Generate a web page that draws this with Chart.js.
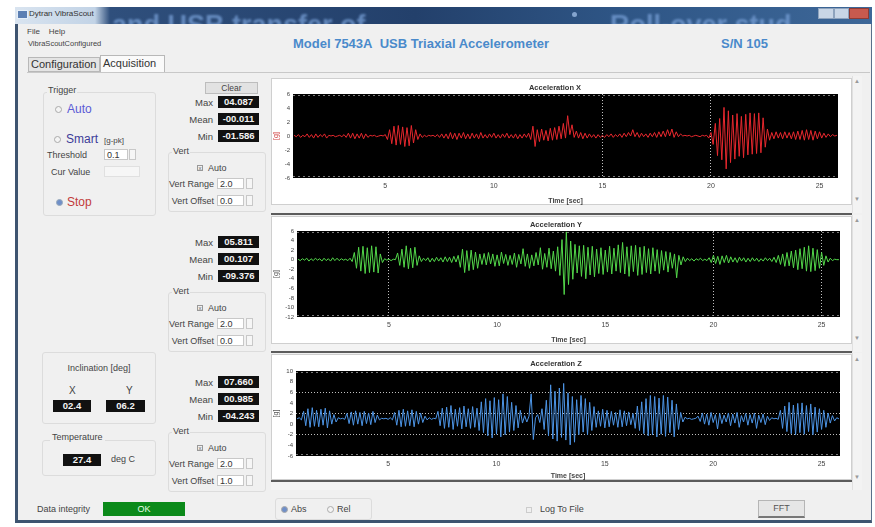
<!DOCTYPE html>
<html>
<head>
<meta charset="utf-8">
<title>VibraScout</title>
<script src="https://cdn.jsdelivr.net/npm/chart.js@4.4.1/dist/chart.umd.min.js"></script>
<style>
  html, body { margin: 0; padding: 0; background: #ffffff; }
  body { width: 875px; height: 527px; position: relative; overflow: hidden;
         font-family: "Liberation Sans", "DejaVu Sans", sans-serif; color: #333; }
  .abs { position: absolute; white-space: nowrap; }
  #win { left: 15px; top: 7px; width: 857px; height: 516px; background: #f0f0f0;
         border: 1px solid #5a6f8a; border-left: 3px solid #3e5470; border-bottom: 3px solid #3e5470; box-sizing: border-box; }
  #titlebar { left: 15px; top: 7px; width: 857px; height: 17px; overflow: hidden;
              background: linear-gradient(90deg, #d9e4f0 0px, #c2d3e6 80px, #2f4f7c 95px, #23406b 400px, #2e5585 600px, #3d6798 857px); }
  .ghost { position: absolute; color: rgba(120,160,215,0.75); font-weight: bold; font-size: 27px; filter: blur(1px); white-space: nowrap; }
  .lbl { font-size: 9px; color: #444; }
  .blue { color: #4a8acb; font-weight: bold; font-size: 13px; }
  .box { background: #111; color: #f4f4f4; font-size: 9.5px; font-weight: bold; text-align: center;
         line-height: 12px; height: 12px; }
  .grp { border: 1px solid #dcdcdc; border-radius: 3px; box-sizing: border-box; }
  .inp { background: #fff; border: 1px solid #c8c8c8; font-size: 9px; line-height: 10px; height: 11px;
         box-sizing: border-box; padding-left: 2px; }
  .spin { border: 1px solid #c8c8c8; background: #f6f6f6; width: 7px; height: 11px; box-sizing: border-box; }
  .radio { width: 7px; height: 7px; border-radius: 50%; border: 1px solid #aaa; background: #f4f4f4; box-sizing: border-box; }
  .panel { background: #fff; border: 1px solid #cfcfcf; box-sizing: border-box; }
  .vsb { background: #f3f3f3; border-left: 1px solid #e0e0e0; width: 10px; box-sizing: border-box; }
  .hsb { background: #f3f3f3; height: 8px; }
  .sep { background: #5c5c5c; height: 2px; }
  .arrow { font-size: 6px; color: #999; }
  canvas { position: absolute; }
</style>
</head>
<body>
<div id="win" class="abs"></div>
<div id="titlebar" class="abs">
  <div class="ghost" style="left:97px;top:3px;">and USB transfer of</div>
  <div class="ghost" style="left:595px;top:3px;">Roll-over stud</div>
</div>
<div class="abs" style="left:17px;top:10px;width:9px;height:7px;background:#5c7fb3;border:1px solid #e5eef8;"></div>
<div class="abs lbl" style="left:29px;top:9px;font-size:8px;color:#333;">Dytran VibraScout</div>
<div class="abs" style="left:572px;top:12px;width:5px;height:5px;border-radius:50%;background:rgba(170,200,240,0.7);"></div>
<div class="abs" style="left:818px;top:8px;width:16px;height:11px;background:#c9d6e6;border:1px solid #8ea3bd;box-sizing:border-box;"></div>
<div class="abs" style="left:834px;top:8px;width:15px;height:11px;background:#c9d6e6;border:1px solid #8ea3bd;box-sizing:border-box;"></div>
<div class="abs" style="left:849px;top:8px;width:20px;height:11px;background:#c85a4e;border:1px solid #8e3b35;box-sizing:border-box;"></div>

<!-- menu and tabs -->
<div class="abs lbl" style="left:27px;top:27px;font-size:8px;">File&nbsp;&nbsp;&nbsp; Help</div>
<div class="abs lbl" style="left:28px;top:39px;font-size:7.5px;">VibraScoutConfigured</div>
<div class="abs" style="left:28px;top:57px;width:72px;height:15px;background:#e4e4e4;border:1px solid #b8b8b8;box-sizing:border-box;"></div>
<div class="abs lbl" style="left:31px;top:58px;font-size:11px;color:#333;">Configuration</div>
<div class="abs" style="left:100px;top:55px;width:65px;height:18px;background:#fafafa;border:1px solid #b8b8b8;border-bottom:none;box-sizing:border-box;"></div>
<div class="abs lbl" style="left:103px;top:57px;font-size:11px;color:#333;">Acquisition</div>
<div class="abs" style="left:27px;top:72px;width:843px;height:1px;background:#c8c8c8;"></div>

<div class="abs blue" style="left:293px;top:36px;">Model 7543A&nbsp; USB Triaxial Accelerometer</div>
<div class="abs blue" style="left:721px;top:36px;">S/N 105</div>

<!-- trigger group -->
<div class="abs grp" style="left:43px;top:92px;width:113px;height:124px;"></div>
<div class="abs lbl" style="left:47px;top:85px;background:#f0f0f0;padding:0 1px;">Trigger</div>
<div class="abs radio" style="left:55px;top:106px;"></div>
<div class="abs" style="left:67px;top:102px;font-size:12px;color:#5b5bd6;">Auto</div>
<div class="abs radio" style="left:54px;top:136px;"></div>
<div class="abs" style="left:66px;top:132px;font-size:12px;color:#3c3c99;">Smart</div>
<div class="abs lbl" style="left:104px;top:136px;font-size:8px;">[g-pk]</div>
<div class="abs lbl" style="left:47px;top:150px;">Threshold</div>
<div class="abs inp" style="left:104px;top:149px;width:24px;">0.1</div>
<div class="abs spin" style="left:129px;top:149px;"></div>
<div class="abs lbl" style="left:51px;top:167px;">Cur Value</div>
<div class="abs inp" style="left:104px;top:166px;width:36px;border-color:#e0e0e0;background:#f6f6f6;"></div>
<div class="abs radio" style="left:56px;top:199px;background:#6f8fc8;border-color:#9ab;"></div>
<div class="abs" style="left:67px;top:195px;font-size:12px;color:#c23b3b;">Stop</div>

<div class="abs" style="left:205px;top:82px;width:53px;height:12px;background:#e2e2e2;border:1px solid #bdbdbd;box-sizing:border-box;font-size:8.5px;text-align:center;line-height:10px;color:#444;">Clear</div>

<!-- inclination / temperature -->
<div class="abs grp" style="left:42px;top:352px;width:114px;height:72px;"></div>
<div class="abs lbl" style="left:42px;top:363px;width:114px;text-align:center;">Inclination [deg]</div>
<div class="abs lbl" style="left:69px;top:385px;font-size:10px;">X</div>
<div class="abs lbl" style="left:126px;top:385px;font-size:10px;">Y</div>
<div class="abs box" style="left:53px;top:400px;width:38px;">02.4</div>
<div class="abs box" style="left:106px;top:400px;width:39px;">06.2</div>
<div class="abs grp" style="left:42px;top:440px;width:114px;height:36px;"></div>
<div class="abs lbl" style="left:50px;top:432px;background:#f0f0f0;padding:0 2px;">Temperature</div>
<div class="abs box" style="left:63px;top:454px;width:38px;">27.4</div>
<div class="abs lbl" style="left:111px;top:454px;">deg C</div>

<div class="abs lbl" style="left:37px;top:504px;">Data integrity</div>
<div class="abs" style="left:103px;top:502px;width:82px;height:14px;background:#0b8a1a;color:#e8ffe8;font-size:9px;text-align:center;line-height:14px;">OK</div>

<!-- bottom controls -->
<div class="abs grp" style="left:275px;top:498px;width:97px;height:22px;"></div>
<div class="abs radio" style="left:281px;top:506px;background:#6f8fc8;"></div>
<div class="abs lbl" style="left:291px;top:504px;">Abs</div>
<div class="abs radio" style="left:327px;top:506px;"></div>
<div class="abs lbl" style="left:337px;top:504px;">Rel</div>
<div class="abs" style="left:526px;top:507px;width:6px;height:6px;border:1px solid #ccc;box-sizing:border-box;"></div>
<div class="abs lbl" style="left:540px;top:504px;">Log To File</div>
<div class="abs" style="left:758px;top:500px;width:47px;height:18px;background:#e6e6e6;border:1px solid #b5b5b5;border-bottom:2px solid #777;box-sizing:border-box;font-size:9px;text-align:center;line-height:15px;color:#555;">FFT</div>

<!-- chart panels with scrollbars -->
<div class="abs panel" style="left:271px;top:78px;width:581px;height:127px;"></div>
<div class="abs panel" style="left:271px;top:216px;width:581px;height:128px;"></div>
<div class="abs panel" style="left:271px;top:354px;width:581px;height:126px;"></div>
<div class="abs hsb" style="left:271px;top:205px;width:581px;"></div>
<div class="abs hsb" style="left:271px;top:344px;width:581px;"></div>
<div class="abs hsb" style="left:271px;top:482px;width:581px;"></div>
<div class="abs sep" style="left:271px;top:213px;width:581px;"></div>
<div class="abs sep" style="left:271px;top:351px;width:581px;"></div>
<div class="abs sep" style="left:271px;top:480px;width:581px;"></div>
<div class="abs vsb" style="left:852px;top:76px;height:137px;"></div>
<div class="abs vsb" style="left:852px;top:215px;height:137px;"></div>
<div class="abs vsb" style="left:852px;top:353px;height:137px;"></div>
<div class="abs arrow" style="left:854px;top:78px;">&#9650;</div>
<div class="abs arrow" style="left:854px;top:196px;">&#9660;</div>
<div class="abs arrow" style="left:854px;top:217px;">&#9650;</div>
<div class="abs arrow" style="left:854px;top:335px;">&#9660;</div>
<div class="abs arrow" style="left:854px;top:356px;">&#9650;</div>
<div class="abs arrow" style="left:854px;top:474px;">&#9660;</div>

<canvas id="cx" width="578" height="126" style="left:272px;top:79px;"></canvas>
<canvas id="cy" width="578" height="127" style="left:272px;top:217px;"></canvas>
<canvas id="cz" width="578" height="125" style="left:272px;top:355px;"></canvas>

<script>
// ---- acquisition record: 10 samples per second starting at 0.8 s ----
const sampleStart = 0.8;
const samplePeriod = 0.1;

const timeTicks = [5, 10, 15, 20, 25];
const accelXTicks = [-6, -4, -2, 0, 2, 4, 6];
const accelYTicks = [-12, -10, -8, -6, -4, -2, 0, 2, 4, 6];
const accelZTicks = [-6, -4, -2, 0, 2, 4, 6, 8, 10];

const accelX = [
  0.1,-0.1,0.2,-0.2,0.1,-0.1,0.3,-0.2,0.2,-0.3,
  0.3,-0.2,0.2,-0.1,0.3,-0.3,0.1,0.0,0.1,-0.1,
  0.0,0.1,-0.1,0.2,-0.2,0.4,-0.3,0.4,-0.4,0.3,
  -0.3,0.4,-0.4,0.3,-0.2,0.1,0.0,0.1,-0.1,0.0,
  0.1,0.0,0.2,-0.5,0.9,-1.1,1.4,-1.3,1.5,-1.2,
  1.3,-1.5,1.2,-1.4,1.5,-1.0,0.9,-0.5,0.3,-0.2,
  0.1,-0.1,0.1,0.0,0.1,-0.1,0.2,-0.2,0.3,-0.3,
  0.3,-0.4,0.5,-0.4,0.4,-0.5,0.4,-0.3,0.5,-0.4,
  0.3,-0.4,0.4,-0.3,0.3,-0.4,0.5,-0.3,0.2,-0.3,
  0.3,-0.2,0.4,-0.3,0.2,-0.3,0.3,-0.2,0.4,-0.3,
  0.2,-0.3,0.3,-0.4,0.2,-0.3,0.3,-0.2,0.4,-0.5,
  1.4,-1.5,0.9,-0.8,1.0,-0.6,0.8,-0.7,1.1,-0.6,
  1.2,-0.5,1.4,-0.4,1.8,-0.3,2.9,0.2,1.6,-0.2,
  0.7,-0.3,0.5,-0.4,0.4,-0.3,0.3,-0.2,0.2,-0.3,
  0.2,-0.2,0.1,-0.2,0.2,-0.1,0.3,-0.2,0.2,-0.1,
  0.3,-0.2,0.4,-0.1,0.5,0.0,0.9,-0.1,0.5,-0.2,
  0.4,-0.1,0.3,-0.2,0.4,-0.1,0.5,-0.2,0.6,-0.1,
  0.7,-0.1,0.9,0.0,1.0,-0.2,0.6,-0.1,0.3,0.0,
  0.1,0.0,0.1,-0.1,0.0,0.1,0.0,-0.1,0.1,0.0,
  0.1,-0.3,0.5,-1.2,1.8,-2.8,2.5,-3.4,4.087,-4.7,
  3.6,-3.8,3.0,-3.3,3.2,-2.9,2.8,-3.1,3.1,-2.7,
  3.3,-2.6,3.2,-2.5,3.3,-2.4,2.6,-1.6,1.0,-0.6,
  0.5,-0.4,0.6,-0.3,0.5,-0.4,0.6,-0.3,0.5,-0.4,
  0.6,-0.5,0.7,-0.5,0.8,-0.6,0.9,-0.5,0.8,-0.6,
  0.7,-0.4,0.6,-0.3,0.4,-0.2,0.3,-0.1,0.2,0.0,
  0.1
];

const accelY = [
  0.1,-0.2,0.2,-0.1,0.3,-0.3,0.2,-0.2,0.3,-0.1,
  0.2,-0.3,0.3,-0.2,0.2,-0.3,0.4,-0.2,0.3,-0.2,
  0.2,-0.1,0.1,-0.2,0.3,-0.4,1.5,-1.8,2.6,-2.4,
  2.8,-2.9,2.5,-2.7,2.9,-2.6,2.7,-2.8,1.2,-0.6,
  0.2,-0.1,0.1,-0.2,0.1,0.0,1.4,-1.2,2.2,-1.6,
  2.9,-1.9,2.4,-1.7,2.6,-1.2,0.8,-0.4,0.3,-0.2,
  0.4,-0.5,0.3,-0.4,0.5,-0.3,0.4,-0.5,0.6,-0.4,
  0.5,-0.6,0.7,-0.5,0.9,-1.6,2.2,-2.7,1.9,-2.3,
  2.0,-2.1,1.6,-1.8,1.2,-1.0,1.3,-1.1,1.5,-0.9,
  1.2,-1.4,1.0,-1.3,1.6,-0.8,1.1,-1.2,0.9,-1.0,
  1.4,-1.6,1.1,-0.9,2.3,-1.4,1.2,-1.8,1.0,-1.3,
  1.5,-1.1,2.5,-2.0,1.3,-1.6,2.4,-1.9,1.8,-2.4,
  2.7,-3.3,4.2,-7.3,5.811,-5.2,3.9,-4.1,3.2,-2.8,
  2.9,-3.5,3.0,-4.0,2.6,-3.2,2.8,-3.6,2.2,-2.9,
  2.5,-3.1,2.0,-2.6,2.8,-3.0,2.4,-2.4,3.1,-2.7,
  3.6,-3.0,2.7,-3.5,2.9,-2.5,3.0,-3.3,2.6,-3.1,
  2.8,-2.7,2.3,-3.0,2.5,-2.4,2.1,-2.9,1.9,-2.2,
  1.7,-2.6,1.5,-1.8,1.2,-3.8,0.9,-1.1,0.6,-0.4,
  0.3,-0.2,0.2,-0.3,0.2,-0.1,0.3,-0.2,0.1,-0.2,
  0.4,-0.6,0.9,-0.8,0.7,-1.0,0.8,-0.6,0.9,-0.7,
  0.6,-0.5,0.4,-0.6,0.5,-0.3,0.4,-0.5,0.3,-0.4,
  0.4,-0.3,0.3,-0.4,0.2,-0.3,0.4,-0.2,0.3,-0.4,
  0.5,-0.6,0.9,-1.0,1.2,-1.4,1.5,-1.3,1.8,-1.7,
  2.0,-2.1,2.3,-1.9,2.6,-2.4,2.9,-2.5,2.4,-2.3,
  2.1,-1.8,1.5,-1.2,0.8,-0.5,0.3,-0.2,0.1,0.0,
  0.0
];

const accelZ = [
  1.0,1.2,0.8,2.4,-0.3,2.9,-0.6,3.1,-0.4,2.6,
  -0.5,2.8,-0.2,3.0,-0.7,2.5,0.0,1.8,0.4,1.2,
  1.0,1.1,0.9,2.0,0.1,2.3,-0.2,2.5,0.0,2.2,
  -0.3,2.4,0.1,2.1,-0.1,2.4,0.3,1.7,0.8,1.1,
  1.0,1.1,0.9,1.2,0.8,2.2,-0.2,2.6,-0.5,2.8,
  -0.4,2.5,-0.3,2.7,-0.5,2.4,0.0,2.1,0.3,1.5,
  0.8,1.2,0.9,1.1,1.0,2.4,-0.3,3.0,-0.8,3.2,
  -0.6,3.5,-1.0,2.8,-0.4,3.1,-0.9,3.4,-0.5,2.9,
  -0.8,3.3,-0.6,3.0,-1.2,4.2,-1.6,4.8,-2.2,4.4,
  -2.6,5.0,-1.9,4.6,-2.4,5.7,-2.0,5.2,-1.5,4.1,
  -1.2,3.5,-0.7,2.6,0.2,1.6,0.4,1.5,5.7,-2.9,
  1.2,1.8,0.3,2.9,-1.0,4.5,-2.2,7.4,-2.8,6.2,
  -3.2,6.8,-2.5,7.66,-3.0,5.9,-3.9,5.2,-3.4,4.6,
  -2.0,5.4,-1.5,4.8,-2.0,4.1,-1.2,3.3,-0.6,2.5,
  -0.4,2.8,-0.7,2.6,-0.5,2.4,-0.2,2.2,-0.6,2.7,
  -0.5,2.5,-0.3,2.3,-0.1,2.0,-0.8,3.4,-1.2,4.2,
  -1.8,4.8,-2.2,5.4,-2.0,5.2,-2.4,4.9,-1.9,5.4,
  -2.3,5.1,-1.6,4.5,-2.4,3.8,-1.0,2.2,0.4,1.3,
  1.0,1.1,0.9,1.0,1.1,1.5,0.5,2.1,0.0,1.9,
  -0.2,2.2,0.3,1.8,-0.9,2.0,0.1,1.7,0.4,2.1,
  -0.3,1.9,0.2,2.2,-0.6,1.6,0.4,2.0,-0.2,1.8,
  0.2,2.1,-0.8,1.7,0.3,1.9,-0.1,1.5,0.7,1.2,
  1.0,1.1,0.9,2.6,-0.8,3.4,-1.4,4.1,-1.8,3.6,
  -2.0,3.9,-1.6,4.0,-1.9,3.5,-1.4,3.8,-2.0,3.2,
  -1.5,2.9,-1.0,2.6,-0.6,2.1,0.2,1.6,0.6,1.2,
  1.0
];

// per-axis readouts shown beside each plot
const statMax  = ['04.087', '05.811', '07.660'];
const statMean = ['-00.011', '00.107', '00.985'];
const statMin  = ['-01.586', '-09.376', '-04.243'];
const vertRange  = ['2.0', '2.0', '2.0'];
const vertOffset = ['0.0', '0.0', '1.0'];

// build the Max/Mean/Min and Vert controls for each axis
const blockTops = [0, 140, 280];
blockTops.forEach((dy, i) => {
  const html = `
  <div class="abs lbl" style="left:160px;top:${97+dy}px;width:53px;text-align:right;font-size:9.5px;">Max</div>
  <div class="abs box" style="left:218px;top:${96+dy}px;width:41px;">${statMax[i]}</div>
  <div class="abs lbl" style="left:160px;top:${114+dy}px;width:53px;text-align:right;font-size:9.5px;">Mean</div>
  <div class="abs box" style="left:218px;top:${113+dy}px;width:41px;">${statMean[i]}</div>
  <div class="abs lbl" style="left:160px;top:${131+dy}px;width:53px;text-align:right;font-size:9.5px;">Min</div>
  <div class="abs box" style="left:218px;top:${130+dy}px;width:41px;">${statMin[i]}</div>
  <div class="abs grp" style="left:168px;top:${152+dy}px;width:98px;height:60px;"></div>
  <div class="abs lbl" style="left:172px;top:${146+dy}px;background:#f0f0f0;padding:0 1px;">Vert</div>
  <div class="abs" style="left:197px;top:${165+dy}px;width:6px;height:6px;border:1px solid #999;box-sizing:border-box;font-size:6px;line-height:5px;color:#666;text-align:center;">x</div>
  <div class="abs lbl" style="left:208px;top:${163+dy}px;">Auto</div>
  <div class="abs lbl" style="left:160px;top:${179+dy}px;width:54px;text-align:right;">Vert Range</div>
  <div class="abs inp" style="left:217px;top:${178+dy}px;width:27px;">${vertRange[i]}</div>
  <div class="abs spin" style="left:246px;top:${178+dy}px;"></div>
  <div class="abs lbl" style="left:160px;top:${196+dy}px;width:54px;text-align:right;">Vert Offset</div>
  <div class="abs inp" style="left:217px;top:${195+dy}px;width:27px;">${vertOffset[i]}</div>
  <div class="abs spin" style="left:246px;top:${195+dy}px;"></div>`;
  document.body.insertAdjacentHTML('beforeend', html);
});

// black plotting field with dashed edge ticks
const plotField = {
  id: 'plotField',
  beforeDraw(chart) {
    const a = chart.chartArea, c = chart.ctx;
    c.save();
    c.fillStyle = '#000';
    c.fillRect(a.left, a.top, a.right - a.left, a.bottom - a.top);
    c.restore();
  },
  afterDraw(chart) {
    const a = chart.chartArea, c = chart.ctx;
    c.save();
    c.strokeStyle = 'rgba(150,150,150,0.8)';
    c.lineWidth = 1;
    c.setLineDash([2, 3]);
    c.beginPath();
    c.moveTo(a.left, a.top + 1.5); c.lineTo(a.right, a.top + 1.5);
    c.moveTo(a.left, a.bottom - 1.5); c.lineTo(a.right, a.bottom - 1.5);
    c.stroke();
    c.restore();
  }
};

function makeChart(id, title, values, color, yTicks, xDotted, yDotted, geo, gColor) {
  const pts = values.map((v, i) => ({ x: sampleStart + i * samplePeriod, y: v }));
  const dottedColor = 'rgba(225,225,225,0.85)';
  return new Chart(document.getElementById(id), {
    type: 'line',
    data: { datasets: [{ data: pts, borderColor: color, borderWidth: 1, pointRadius: 0, tension: 0 }] },
    options: {
      responsive: false, animation: false, devicePixelRatio: 1,
      layout: { padding: { left: 0, right: geo.right, top: 0, bottom: 0 } },
      plugins: {
        legend: { display: false }, tooltip: { enabled: false },
        title: { display: true, text: title, color: '#333',
                 font: { family: 'Liberation Sans', size: 7.5, weight: 'bold' },
                 padding: { top: geo.titleTop, bottom: geo.titleBottom } }
      },
      scales: {
        x: {
          type: 'linear', min: 0.75, max: 25.85,
          afterBuildTicks: s => { s.ticks = timeTicks.map(v => ({ value: v })); },
          afterFit: s => { s.height = geo.xh; },
          grid: { drawTicks: false, color: ctx => xDotted.includes(ctx.tick && ctx.tick.value) ? dottedColor : 'rgba(0,0,0,0)' },
          border: { display: false, dash: [1, 2] },
          ticks: { autoSkip: false, color: '#444', font: { family: 'Liberation Sans', size: 7 }, padding: 4, maxRotation: 0 },
          title: { display: true, text: 'Time [sec]', color: '#444', font: { family: 'Liberation Sans', size: 7, weight: 'bold' }, padding: { top: 1, bottom: 0 } }
        },
        y: {
          min: yTicks[0], max: yTicks[yTicks.length - 1],
          afterBuildTicks: s => { s.ticks = yTicks.map(v => ({ value: v })); },
          afterFit: s => { s.width = geo.left; },
          grid: { drawTicks: false, color: ctx => yDotted.includes(ctx.tick && ctx.tick.value) ? dottedColor : 'rgba(0,0,0,0)' },
          border: { display: false, dash: [1, 2] },
          ticks: { autoSkip: false, color: '#444', font: { family: 'Liberation Sans', size: 6 }, padding: 3 },
          title: { display: true, text: '[g]', color: gColor, font: { family: 'Liberation Sans', size: 7 }, padding: 0 }
        }
      }
    },
    plugins: [plotField]
  });
}

makeChart('cx', 'Acceleration X', accelX, '#e8282e', accelXTicks, [15, 20], [],
          { left: 21, right: 12, titleTop: 4, titleBottom: 2, xh: 27 }, '#d04040');
makeChart('cy', 'Acceleration Y', accelY, '#53d84a', accelYTicks, [5, 20, 25], [],
          { left: 25, right: 10, titleTop: 3, titleBottom: 2, xh: 27 }, '#555');
makeChart('cz', 'Acceleration Z', accelZ, '#4d95e6', accelZTicks, [], [6, 2, -2],
          { left: 24, right: 10, titleTop: 4, titleBottom: 3, xh: 24 }, '#555');
</script>
</body>
</html>
